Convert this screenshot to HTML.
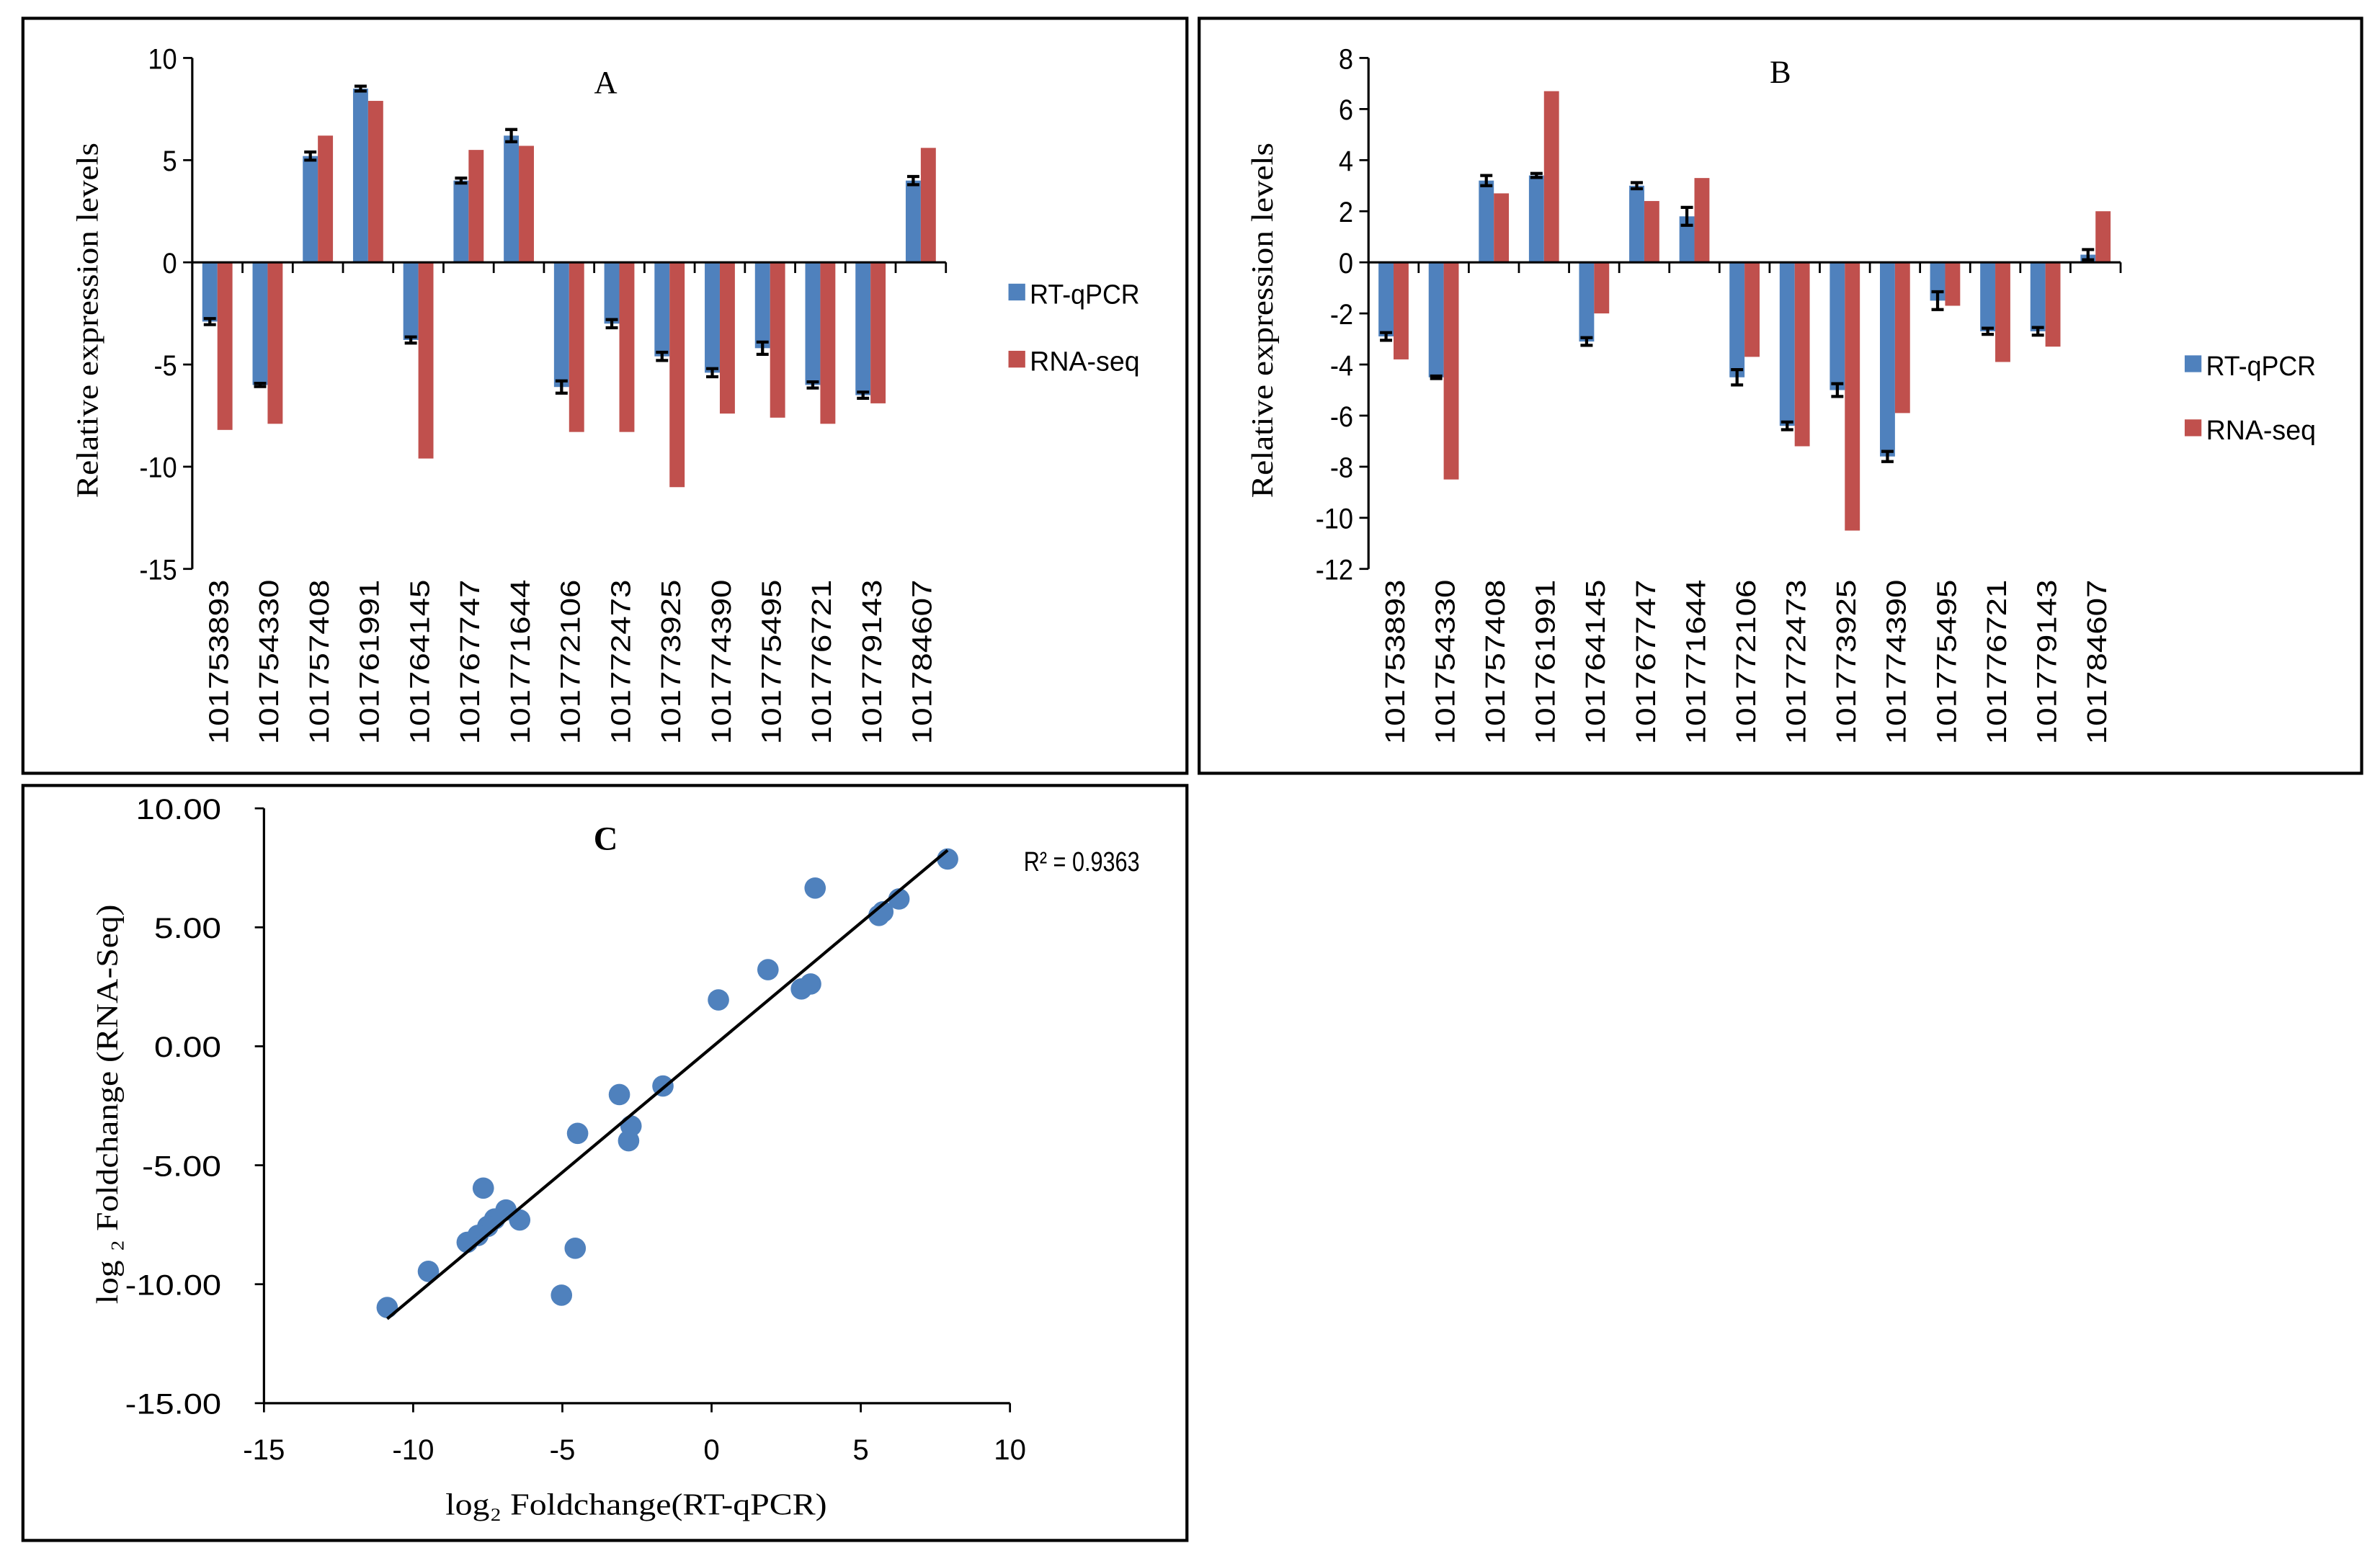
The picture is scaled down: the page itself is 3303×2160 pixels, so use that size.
<!DOCTYPE html>
<html><head><meta charset="utf-8"><style>html,body{margin:0;padding:0;background:#fff}svg{display:block}</style></head>
<body>
<svg id="fig" xmlns="http://www.w3.org/2000/svg" width="3303" height="2160" viewBox="0 0 1560 1020.2" font-family="'Liberation Sans', sans-serif">
<rect x="0" y="0" width="1560" height="1020.2" fill="#fff"/>
<rect x="15" y="12" width="763" height="495" fill="none" stroke="#000" stroke-width="2"/>
<rect x="786" y="12" width="762" height="495" fill="none" stroke="#000" stroke-width="2"/>
<rect x="15" y="515" width="763" height="495" fill="none" stroke="#000" stroke-width="2"/>
<g id="gA"></g>
<g id="gB"></g>
<g id="gC"></g>
</svg>
<script>
const genes = ["101753893","101754330","101757408","101761991","101764145","101767747","101771644","101772106","101772473","101773925","101774390","101775495","101776721","101779143","101784607"];
const aRT = [-2.9,-6.0,5.2,8.5,-3.8,4.0,6.2,-6.1,-3.0,-4.6,-5.4,-4.2,-6.0,-6.5,4.0];
const aErr = [0.15,0.08,0.2,0.12,0.15,0.12,0.3,0.3,0.2,0.2,0.2,0.3,0.15,0.15,0.2];
const aSeq = [-8.2,-7.9,6.2,7.9,-9.6,5.5,5.7,-8.3,-8.3,-11.0,-7.4,-7.6,-7.9,-6.9,5.6];
const aTicks = [10,5,0,-5,-10,-15];
const bRT = [-2.9,-4.5,3.2,3.4,-3.1,3.0,1.8,-4.5,-6.4,-5.0,-7.6,-1.5,-2.7,-2.7,0.3];
const bErr = [0.15,0.05,0.2,0.08,0.15,0.12,0.35,0.3,0.15,0.25,0.2,0.35,0.12,0.15,0.2];
const bSeq = [-3.8,-8.5,2.7,6.7,-2.0,2.4,3.3,-3.7,-7.2,-10.5,-5.9,-1.7,-3.9,-3.3,2.0];
const bTicks = [8,6,4,2,0,-2,-4,-6,-8,-10,-12];
const cX = [7.91,3.47,6.28,5.61,5.74,1.89,3.32,3.01,0.23,-1.63,-3.09,-2.70,-2.78,-4.49,-7.65,-6.89,-6.43,-7.27,-7.50,-7.83,-8.19,-4.57,-9.49,-5.03,-10.87];
const cY = [7.87,6.65,6.19,5.50,5.65,3.22,2.62,2.41,1.95,-1.67,-2.03,-3.35,-3.97,-3.66,-5.96,-6.88,-7.30,-7.26,-7.57,-7.95,-8.24,-8.49,-9.46,-10.46,-10.98];
const cYTicks = [10,5,0,-5,-10,-15];
const cXTicks = [-15,-10,-5,0,5,10];

const NS="http://www.w3.org/2000/svg";
function mk(p,tag,at,txt){const e=document.createElementNS(NS,tag);for(const k in at)e.setAttribute(k,at[k]);if(txt!==undefined)e.textContent=txt;p.appendChild(e);return e;}

function barPanel(g,o){
  const {ax,ax2,yTop,yBot,vTop,vBot,ticks,rt,err,seq,letter,tx,ty,legX,legY1,legY2,titleX,titleY,id}=o;
  const y=v=>yTop+(vTop-v)/(vTop-vBot)*(yBot-yTop);
  const n=genes.length, cw=(ax2-ax)/n, bw=cw*0.3;
  let e=mk(g,'line',{x1:ax,y1:yTop,x2:ax,y2:yBot,stroke:'#000','stroke-width':1.5});
  
  ticks.forEach(t=>{
    mk(g,'line',{x1:ax-6,y1:y(t),x2:ax,y2:y(t),stroke:'#000','stroke-width':1.3});
    e=mk(g,'text',{x:ax-10,y:y(t)+7,'text-anchor':'end','font-size':19,transform:`translate(${(ax-10)*0.1},0) scale(0.9,1)`},String(t));
    
  });
  for(let i=0;i<n;i++){
    const cx=ax+cw*(i+0.5);
    let r=mk(g,'rect',{x:cx-bw,y:Math.min(y(0),y(rt[i])),width:bw,height:Math.abs(y(rt[i])-y(0)),fill:'#4f81bd'});
    
    r=mk(g,'rect',{x:cx,y:Math.min(y(0),y(seq[i])),width:bw,height:Math.abs(y(seq[i])-y(0)),fill:'#c0504d'});
    
    const ex=cx-bw/2, y1=y(rt[i]+err[i]), y2=y(rt[i]-err[i]);
    const eb=mk(g,'path',{d:`M${ex},${y1}V${y2}M${ex-4},${y1}H${ex+4}M${ex-4},${y2}H${ex+4}`,stroke:'#000','stroke-width':2,fill:'none'});
    
    const lb=mk(g,'text',{transform:`translate(${cx+7},${yBot+7}) rotate(-90)`,'text-anchor':'end','font-size':18,textLength:108,lengthAdjust:'spacingAndGlyphs'},genes[i]);
    
  }
  e=mk(g,'line',{x1:ax,y1:y(0),x2:ax2,y2:y(0),stroke:'#000','stroke-width':1.5});
  
  for(let i=1;i<=n;i++)mk(g,'line',{x1:ax+cw*i,y1:y(0),x2:ax+cw*i,y2:y(0)+7,stroke:'#000','stroke-width':1.3});
  e=mk(g,'text',{x:titleX,y:titleY,'font-family':"'Liberation Serif', serif",'font-size':21,'text-anchor':'middle'},letter);
  
  e=mk(g,'text',{transform:`translate(${tx},${ty}) rotate(-90)`,'font-family':"'Liberation Serif', serif",'font-size':20,'text-anchor':'middle',textLength:233,lengthAdjust:'spacingAndGlyphs'},'Relative  expression levels');
  
  [[legY1,'#4f81bd','RT-qPCR'],[legY2,'#c0504d','RNA-seq']].forEach(([ly,c,t])=>{
    const lg=mk(g,'g',{});
    mk(lg,'rect',{x:legX,y:ly-6,width:11,height:11,fill:c});
    mk(lg,'text',{x:legX+14,y:ly+7,'font-size':18,textLength:72,lengthAdjust:'spacingAndGlyphs'},t);
  });
}
barPanel(document.getElementById('gA'),{id:'a',ax:126,ax2:620,yTop:38,yBot:373,vTop:10,vBot:-15,ticks:aTicks,rt:aRT,err:aErr,seq:aSeq,letter:'A',tx:64,ty:210,legX:661,legY1:192,legY2:236,titleX:397,titleY:61});
barPanel(document.getElementById('gB'),{id:'b',ax:897,ax2:1390,yTop:38,yBot:373,vTop:8,vBot:-12,ticks:bTicks,rt:bRT,err:bErr,seq:bSeq,letter:'B',tx:834,ty:210,legX:1432,legY1:239,legY2:281,titleX:1167,titleY:54});

(function(){
  const g=document.getElementById('gC');
  const x0=173,x1=662,y0=530,y1=920;
  const X=v=>x0+(v+15)/25*(x1-x0), Y=v=>y0+(10-v)/25*(y1-y0);
  let e=mk(g,'line',{x1:x0,y1:y0,x2:x0,y2:y1,stroke:'#000','stroke-width':1.5});
  
  e=mk(g,'line',{x1:x0,y1:y1,x2:x1,y2:y1,stroke:'#000','stroke-width':1.5});
  
  cYTicks.forEach(t=>{mk(g,'line',{x1:x0-6,y1:Y(t),x2:x0,y2:Y(t),stroke:'#000','stroke-width':1.3});
    e=mk(g,'text',{x:x0-28,y:Y(t)+7,'text-anchor':'end','font-size':19,textLength:t<0?(t<=-10?63:52):(t>=10?56:44),lengthAdjust:'spacingAndGlyphs'},t.toFixed(2));
    });
  cXTicks.forEach(t=>{mk(g,'line',{x1:X(t),y1:y1,x2:X(t),y2:y1+6,stroke:'#000','stroke-width':1.3});
    e=mk(g,'text',{x:X(t),y:y1+37,'text-anchor':'middle','font-size':19},String(t));
    });
  for(let i=0;i<cX.length;i++){
    const c=mk(g,'circle',{cx:X(cX[i]),cy:Y(cY[i]),r:7,fill:'#4f81bd'});
    
  }
  const n=cX.length;let sx=0,sy=0,sxx=0,sxy=0;
  for(let i=0;i<n;i++){sx+=cX[i];sy+=cY[i];sxx+=cX[i]*cX[i];sxy+=cX[i]*cY[i];}
  const m=(n*sxy-sx*sy)/(n*sxx-sx*sx), b=(sy-m*sx)/n;
  const xa=Math.min(...cX), xb=Math.max(...cX);
  e=mk(g,'line',{x1:X(xa),y1:Y(m*xa+b),x2:X(xb),y2:Y(m*xb+b),stroke:'#000','stroke-width':2});
  
  e=mk(g,'text',{x:671,y:571,'font-size':18,textLength:76,lengthAdjust:'spacingAndGlyphs'},'R² = 0.9363');
  
  e=mk(g,'text',{x:397,y:557,'font-family':"'Liberation Serif', serif",'font-size':22,'font-weight':'bold','text-anchor':'middle'},'C');
  
  e=mk(g,'text',{x:417,y:993,'font-family':"'Liberation Serif', serif",'font-size':20,'text-anchor':'middle',textLength:250,lengthAdjust:'spacingAndGlyphs'},'log₂ Foldchange(RT-qPCR)');
  
  e=mk(g,'text',{transform:'translate(77,724) rotate(-90)','font-family':"'Liberation Serif', serif",'font-size':20,'text-anchor':'middle',textLength:262,lengthAdjust:'spacingAndGlyphs'},'log ₂ Foldchange (RNA-Seq)');
  
})();
</script>
</body></html>
